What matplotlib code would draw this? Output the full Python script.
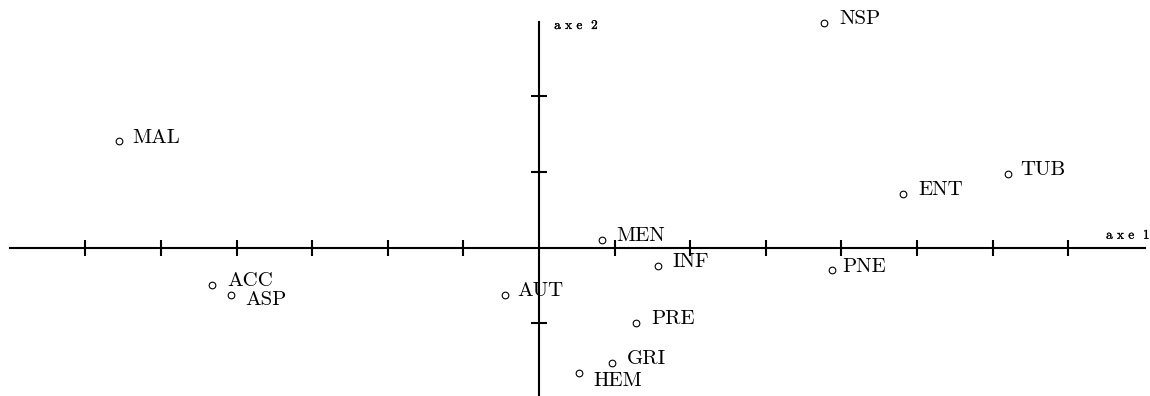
import matplotlib
matplotlib.use("Agg")
import matplotlib.pyplot as plt
import matplotlib.patheffects as pe

# factor map coordinates (1 unit = 1 tick)
labels = ["NSP", "MAL", "TUB", "ENT", "MEN", "INF", "PNE",
          "ACC", "ASP", "AUT", "PRE", "GRI", "HEM"]
axe1 = [3.77, -5.55, 6.20, 4.82, 0.83, 1.57, 3.87,
        -4.32, -4.07, -0.45, 1.28, 0.96, 0.53]
axe2 = [2.97, 1.41, 0.97, 0.71, 0.10, -0.24, -0.29,
        -0.49, -0.63, -0.63, -0.99, -1.53, -1.66]

x_ticks = [-6, -5, -4, -3, -2, -1, 1, 2, 3, 4, 5, 6, 7]
y_ticks = [-1, 1, 2]

# label offsets in pixels (default is right of the marker, on the baseline)
offsets = {"HEM": (14, -13), "ASP": (14, -10), "PNE": (11, -2),
           "AUT": (12, -1), "MAL": (13, -2), "TUB": (13, -1)}

FONT = "cmr10"
darker = [pe.withStroke(linewidth=0.2, foreground="black")]

fig = plt.figure(figsize=(11.5, 3.96), dpi=100)
ax = fig.add_axes([0, 0, 1, 1])
ax.set_xlim(-7.13, 8.082)
ax.set_ylim(-1.962, 3.276)

for side in ("top", "right"):
    ax.spines[side].set_visible(False)
ax.spines["left"].set_position(("data", 0))
ax.spines["bottom"].set_position(("data", 0))
ax.spines["left"].set_bounds(-1.96, 2.99)
ax.spines["bottom"].set_bounds(-7.0, 8.01)
for sp in ("left", "bottom"):
    ax.spines[sp].set_linewidth(1.5)
ax.set_xticks(x_ticks)
ax.set_yticks(y_ticks)
ax.tick_params(direction="inout", length=11.5, width=1.5,
               labelbottom=False, labelleft=False)

ax.plot(axe1, axe2, ls="none", marker="o", ms=4.8, mew=0.8,
        mfc="white", mec="black", zorder=3)
for name, x, y in zip(labels, axe1, axe2):
    dx, dy = offsets.get(name, (15, -1))
    ax.annotate(name, (x, y), xytext=(dx, dy), textcoords="offset pixels",
                ha="left", va="baseline", fontsize=15, family=FONT)

ax.text(7.50, 0.119, "a x e  1", ha="left", va="baseline", fontsize=9.5,
        family=FONT, path_effects=darker)
ax.text(0.20, 2.893, "a x e  2", ha="left", va="baseline", fontsize=9.5,
        family=FONT, path_effects=darker)

fig.savefig("out.png", dpi=100)
